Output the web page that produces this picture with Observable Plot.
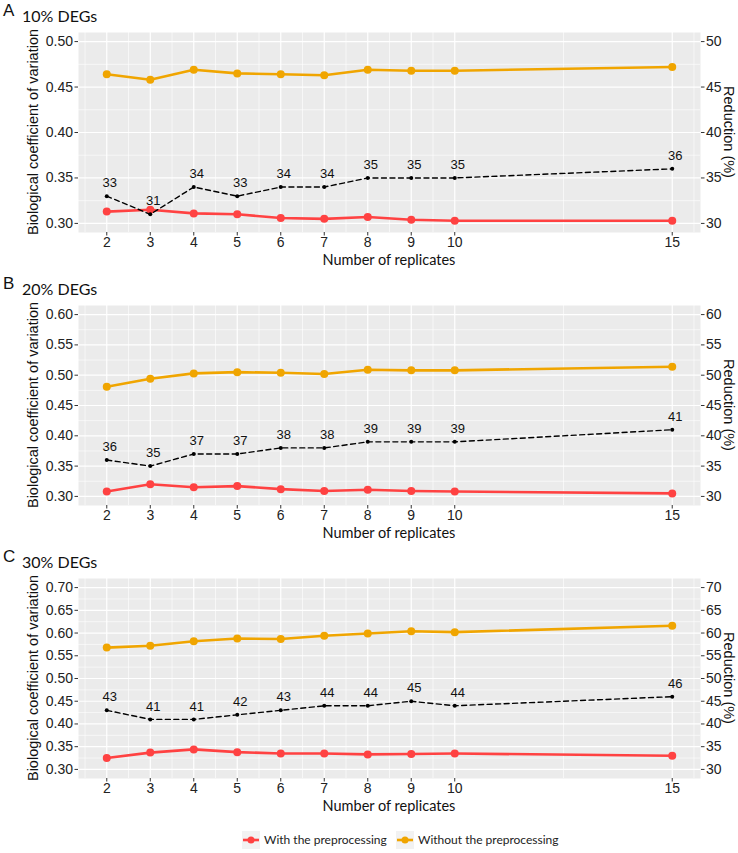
<!DOCTYPE html>
<html>
<head>
<meta charset="utf-8">
<script src="https://cdn.jsdelivr.net/npm/d3@7"></script>
<script src="https://cdn.jsdelivr.net/npm/@observablehq/plot@0.6"></script>
<style>
  body { margin: 0; background: white; }
  #wrap { position: relative; width: 738px; height: 853px; overflow: hidden; }
  .panel { position: absolute; left: 0; }
  #legend { position: absolute; left: 0; top: 831px; width: 738px; height: 18px; font-family: Lato, "Open Sans", sans-serif; font-size: 12px; color: #222; }
  .key { position: absolute; top: 0; width: 18px; height: 18px; background: #F2F2F2; }
  .ltxt { position: absolute; top: 0; line-height: 18px; white-space: nowrap; }
</style>
</head>
<body>
<div id="wrap">
  <div id="legend"></div>
</div>
<script>
const replicates = [2, 3, 4, 5, 6, 7, 8, 9, 10, 15];
const xTicks = [2, 3, 4, 5, 6, 7, 8, 9, 10, 15];
const xMinor = [1.5, 2.5, 3.5, 4.5, 5.5, 6.5, 7.5, 8.5, 9.5, 12.5, 15.5];

const A_with = [0.313, 0.315, 0.311, 0.310, 0.306, 0.305, 0.307, 0.304, 0.303, 0.303];
const A_without = [0.464, 0.458, 0.469, 0.465, 0.464, 0.463, 0.469, 0.468, 0.468, 0.472];
const A_reduction = [33, 31, 34, 33, 34, 34, 35, 35, 35, 36];

const B_with = [0.308, 0.320, 0.315, 0.317, 0.312, 0.309, 0.311, 0.309, 0.308, 0.305];
const B_without = [0.481, 0.494, 0.503, 0.505, 0.504, 0.502, 0.509, 0.508, 0.508, 0.514];
const B_reduction = [36, 35, 37, 37, 38, 38, 39, 39, 39, 41];

const C_with = [0.325, 0.337, 0.344, 0.338, 0.335, 0.335, 0.333, 0.334, 0.335, 0.330];
const C_without = [0.568, 0.572, 0.582, 0.588, 0.587, 0.594, 0.599, 0.604, 0.602, 0.616];
const C_reduction = [43, 41, 41, 42, 43, 44, 44, 45, 44, 46];

const A_yTicks = [0.30, 0.35, 0.40, 0.45, 0.50];
const B_yTicks = [0.30, 0.35, 0.40, 0.45, 0.50, 0.55, 0.60];
const C_yTicks = [0.30, 0.35, 0.40, 0.45, 0.50, 0.55, 0.60, 0.65, 0.70];
const A_domain = [0.29, 0.51];
const B_domain = [0.285, 0.615];
const C_domain = [0.28, 0.72];

const panelLetters = ["A", "B", "C"];
const panelTitles = ["10% DEGs", "20% DEGs", "30% DEGs"];
const seriesNames = ["With the preprocessing", "Without the preprocessing"];
const yLeftLabel = "Biological coefficient of variation";
const yRightLabel = "Reduction (%)";
const xLabel = "Number of replicates";
const colWith = "#FF4242";
const colWithout = "#F0A500";

const W = 738, H = 273, ML = 78, MR = 38, MT = 32, MB = 41;
const sans = "'Liberation Sans', Arial, sans-serif";
const cal = "Lato, 'Open Sans', sans-serif";

function minorOf(ticks) {
  const m = [];
  for (let i = 0; i < ticks.length - 1; i++) m.push(+((ticks[i] + ticks[i + 1]) / 2).toFixed(4));
  return m;
}

function panel(idx, withV, withoutV, red, yTicks, domain, top) {
  const data = replicates.map((r, i) => ({ r, w: withV[i], wo: withoutV[i], red: red[i] }));
  const p = Plot.plot({
    width: W,
    height: H,
    marginLeft: ML,
    marginRight: MR,
    marginTop: MT,
    marginBottom: MB,
    style: { fontFamily: sans, fontSize: "14px", color: "#333", background: "white" },
    x: { domain: [1.35, 15.65], axis: null },
    y: { domain, axis: null },
    marks: [
      Plot.frame({ fill: "#EBEBEB", stroke: "none" }),
      Plot.ruleX(xMinor, { stroke: "white", strokeWidth: 0.6 }),
      Plot.ruleY(minorOf(yTicks), { stroke: "white", strokeWidth: 0.6 }),
      Plot.ruleX(xTicks, { stroke: "white", strokeWidth: 1.2 }),
      Plot.ruleY(yTicks, { stroke: "white", strokeWidth: 1.2 }),
      Plot.axisX({ ticks: xTicks, tickSize: 3.5, tickPadding: 1.5, label: null, fontSize: 14, fill: "#222" }),
      Plot.axisY({ anchor: "left", ticks: yTicks, tickSize: 3.5, tickPadding: 2, tickFormat: d3.format(".2f"), label: null, fontSize: 14, fill: "#222" }),
      Plot.axisY({ anchor: "right", ticks: yTicks, tickSize: 3.5, tickPadding: 2, tickFormat: d => Math.round(d * 100), label: null, fontSize: 14, fill: "#222" }),
      Plot.line(data, { x: "r", y: "wo", stroke: colWithout, strokeWidth: 2.6 }),
      Plot.dot(data, { x: "r", y: "wo", fill: colWithout, r: 4 }),
      Plot.line(data, { x: "r", y: "w", stroke: colWith, strokeWidth: 2.6 }),
      Plot.dot(data, { x: "r", y: "w", fill: colWith, r: 4 }),
      Plot.line(data, { x: "r", y: d => d.red / 100, stroke: "black", strokeWidth: 1.4, strokeDasharray: "5,3.5" }),
      Plot.dot(data, { x: "r", y: d => d.red / 100, fill: "black", r: 2 }),
      Plot.text(data, { x: "r", y: d => d.red / 100, text: d => String(d.red), dx: 3, dy: -13, fontSize: 13, fill: "#111", fontFamily: sans })
    ]
  });
  const svg = d3.select(p);
  const addText = (txt, x, y, opts) => {
    svg.append("text").text(txt)
      .attr("x", 0).attr("y", 0)
      .attr("transform", `translate(${x},${y})` + (opts.rotate ? ` rotate(${opts.rotate})` : ""))
      .attr("text-anchor", opts.anchor || "middle")
      .attr("dominant-baseline", "central")
      .attr("font-family", opts.font || sans)
      .attr("font-size", opts.size || 14)
      .attr("fill", "#111");
  };
  const cx = (ML + W - MR) / 2, cy = (MT + H - MB) / 2;
  addText(panelLetters[idx], 3, 10, { anchor: "start", size: 17 });
  addText(panelTitles[idx], 22, 15, { anchor: "start", size: 16, font: cal });
  addText(yLeftLabel, 33, cy, { rotate: -90, size: 14.5 });
  addText(yRightLabel, W - MR + 29, cy, { rotate: 90, size: 14.5 });
  addText(xLabel, cx, H - MB + 27, { size: 14.5, font: cal });
  p.classList.add("panel");
  p.style.top = top + "px";
  p.style.position = "absolute";
  document.getElementById("wrap").appendChild(p);
}

panel(0, A_with, A_without, A_reduction, A_yTicks, A_domain, 0);
panel(1, B_with, B_without, B_reduction, B_yTicks, B_domain, 273);
panel(2, C_with, C_without, C_reduction, C_yTicks, C_domain, 546);

// Legend
const legend = document.getElementById("legend");
const cols = [colWith, colWithout];
const keyX = [242, 396];
const txtX = [264, 418];
seriesNames.forEach((name, i) => {
  const k = document.createElement("div");
  k.className = "key";
  k.style.left = keyX[i] + "px";
  k.innerHTML = `<svg width="18" height="18"><line x1="1" y1="9" x2="17" y2="9" stroke="${cols[i]}" stroke-width="2.6"/><circle cx="9" cy="9" r="3.5" fill="${cols[i]}"/></svg>`;
  legend.appendChild(k);
  const t = document.createElement("div");
  t.className = "ltxt";
  t.style.left = txtX[i] + "px";
  t.textContent = name;
  legend.appendChild(t);
});
</script>
</body>
</html>
